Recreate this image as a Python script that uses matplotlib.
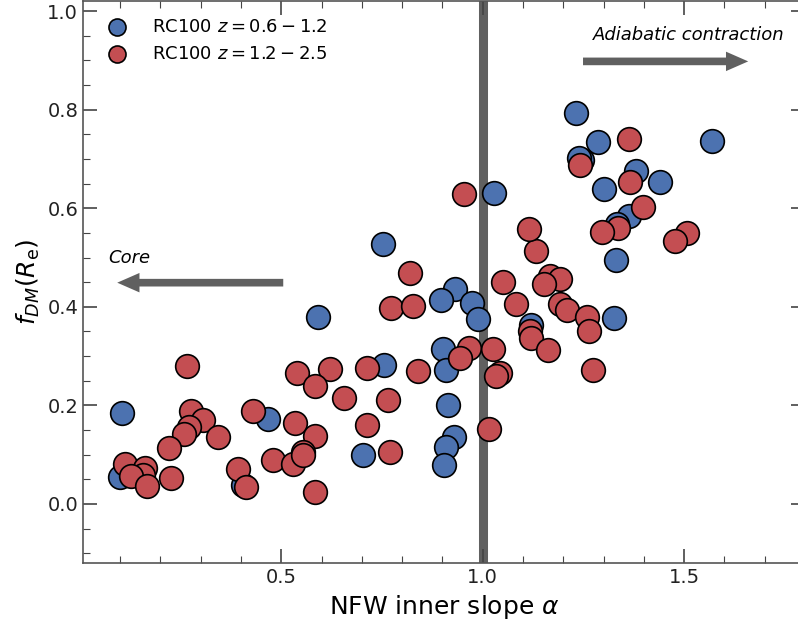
import matplotlib
matplotlib.use("Agg")
import matplotlib.pyplot as plt
import numpy as np

# NFW inner slope alpha and dark matter fraction, RC100 z = 0.6 - 1.2
alpha_low = [0.099, 0.104, 0.468, 0.406, 0.703, 0.592, 0.752, 0.932, 0.897, 0.973,
             0.988, 1.120, 0.901, 0.909, 0.756, 0.913, 0.930, 0.908, 0.904, 1.029,
             1.232, 1.285, 1.570, 1.246, 1.240, 1.381, 1.439, 1.301, 1.362, 1.333,
             1.332, 1.325]
fdm_low = [0.055, 0.185, 0.173, 0.039, 0.100, 0.380, 0.527, 0.436, 0.414, 0.407,
           0.375, 0.363, 0.314, 0.271, 0.282, 0.201, 0.135, 0.115, 0.079, 0.631,
           0.793, 0.734, 0.736, 0.698, 0.702, 0.675, 0.653, 0.639, 0.585, 0.569,
           0.495, 0.377]

# RC100 z = 1.2 - 2.5
alpha_high = [0.267, 0.539, 0.620, 0.584, 0.657, 0.714, 0.714, 0.276, 0.307, 0.272,
              0.259, 0.222, 0.344, 0.431, 0.533, 0.583, 0.479, 0.528, 0.554, 0.555,
              0.584, 0.392, 0.412, 0.226, 0.113, 0.162, 0.158, 0.127, 0.167,
              0.820, 0.772, 0.828, 1.050, 1.083, 1.132, 1.167, 1.192, 1.151, 1.192,
              1.209, 1.260, 1.118, 1.120, 1.161, 0.965, 0.943, 1.025, 1.042, 1.034,
              0.839, 0.765, 1.016, 0.769,
              1.364, 1.242, 1.366, 1.399, 1.335, 1.297, 1.507, 1.478, 1.263, 1.275,
              0.954, 1.115]
fdm_high = [0.280, 0.265, 0.273, 0.240, 0.215, 0.276, 0.160, 0.188, 0.171, 0.156,
            0.141, 0.114, 0.135, 0.189, 0.164, 0.137, 0.089, 0.081, 0.106, 0.099,
            0.025, 0.071, 0.034, 0.052, 0.081, 0.072, 0.059, 0.057, 0.037,
            0.468, 0.397, 0.401, 0.450, 0.406, 0.514, 0.462, 0.456, 0.446, 0.405,
            0.394, 0.380, 0.350, 0.337, 0.313, 0.316, 0.296, 0.314, 0.265, 0.259,
            0.270, 0.210, 0.152, 0.106,
            0.741, 0.688, 0.653, 0.602, 0.560, 0.552, 0.550, 0.533, 0.350, 0.272,
            0.629, 0.558]

labels = [r"RC100 $z = 0.6 - 1.2$", r"RC100 $z = 1.2 - 2.5$"]
colors = ["#4c72b0", "#c44e52"]

fig = plt.figure(figsize=(7.98, 6.32), dpi=100)
# the right spine sits just outside the saved image, as in the original
ax = fig.add_axes([0.104, 0.109, 0.9048, 0.889])

ax.axvline(1.0, color="#606060", lw=6.5, zorder=1)

ax.scatter(alpha_low, fdm_low, s=290, c=colors[0], edgecolors="black",
           linewidths=1.2, label=labels[0], zorder=3)
ax.scatter(alpha_high, fdm_high, s=290, c=colors[1], edgecolors="black",
           linewidths=1.2, label=labels[1], zorder=3)

# arrows and annotations
arrow_kw = dict(facecolor="#606060", edgecolor="none", width=5.5, headwidth=14,
                headlength=16, shrink=0)
ax.annotate("", xy=(1.659, 0.898), xytext=(1.249, 0.898), arrowprops=arrow_kw)
ax.annotate("", xy=(0.093, 0.449), xytext=(0.505, 0.449), arrowprops=arrow_kw)
ax.text(1.274, 0.952, "Adiabatic contraction", style="italic", fontsize=13,
        va="center", ha="left")
ax.text(0.071, 0.50, "Core", style="italic", fontsize=13, va="center", ha="left")

ax.set_xlim(0.008, 1.8)
ax.set_ylim(-0.12, 1.02)
ax.set_xticks([0.5, 1.0, 1.5])
ax.set_xticks(np.arange(0.1, 1.8, 0.1), minor=True)
ax.set_yticks([0.0, 0.2, 0.4, 0.6, 0.8, 1.0])
ax.set_yticks(np.arange(-0.1, 1.02, 0.05), minor=True)
ax.tick_params(which="both", direction="in", top=True, right=True,
               color="#444444", labelsize=14, labelcolor="#222222")
ax.tick_params(which="major", length=10, width=1.2)
ax.tick_params(which="minor", length=5, width=0.8)
for sp in ax.spines.values():
    sp.set_color("#555555")
    sp.set_linewidth(1.2)

ax.set_xlabel(r"NFW inner slope $\alpha$", fontsize=18)
ax.set_ylabel(r"$f_{DM}(R_\mathrm{e})$", fontsize=18)

ax.legend(loc="upper left", frameon=False, fontsize=13, scatterpoints=1,
          markerscale=0.72, handletextpad=0.9, borderaxespad=0.5)

fig.savefig("out.png", dpi=100)
